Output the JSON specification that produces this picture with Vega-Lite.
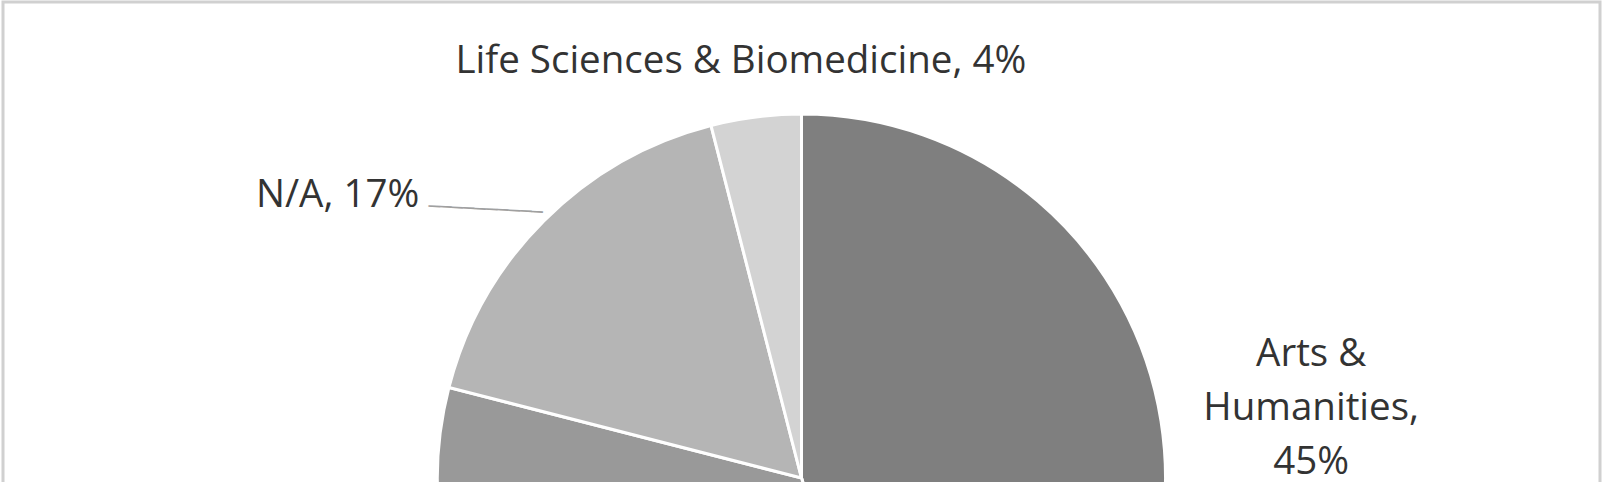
{
  "$schema": "https://vega.github.io/schema/vega-lite/v6.json",
  "width": 1597,
  "height": 952,
  "padding": {"left": 3, "top": 2, "right": 3, "bottom": 0},
  "autosize": "none",
  "background": "#ffffff",
  "view": {"stroke": "#d0d0d0", "strokeWidth": 3},
  "data": {
    "values": [
      {"field": "Arts & Humanities", "pct": 45, "rank": 1, "label": "Arts &\nHumanities,\n45%"},
      {"field": "Social Sciences", "pct": 34, "rank": 2, "label": "Social Sciences, 34%"},
      {"field": "N/A", "pct": 17, "rank": 3, "label": "N/A, 17%"},
      {"field": "Life Sciences & Biomedicine", "pct": 4, "rank": 4, "label": "Life Sciences & Biomedicine, 4%"}
    ]
  },
  "encoding": {
    "theta": {"field": "pct", "type": "quantitative", "stack": true},
    "order": {"field": "rank", "type": "quantitative"}
  },
  "layer": [
    {
      "mark": {"type": "arc", "radius": 364, "stroke": "#ffffff", "strokeWidth": 3},
      "encoding": {
        "color": {
          "field": "field", "type": "nominal",
          "scale": {
            "domain": ["Arts & Humanities", "Social Sciences", "N/A", "Life Sciences & Biomedicine"],
            "range": ["#7f7f7f", "#999999", "#b5b5b5", "#d3d3d3"]
          },
          "legend": null
        }
      }
    },
    {
      "mark": {"type": "text", "radius": 420, "dx": -8, "font": "Open Sans", "fontSize": 38.5, "color": "#333333", "align": "center", "baseline": "middle"},
      "encoding": {"text": {"condition": {"test": "datum.rank == 4", "field": "label"}, "value": ""}}
    },
    {
      "mark": {"type": "text", "radius": 400, "dx": -181, "font": "Open Sans", "fontSize": 38.5, "color": "#333333", "align": "center", "baseline": "middle"},
      "encoding": {"text": {"condition": {"test": "datum.rank == 3", "field": "label"}, "value": ""}}
    },
    {
      "mark": {"type": "text", "radius": 376, "dx": -50, "angle": 3, "font": "DejaVu Sans", "fontSize": 19, "color": "#a0a0a0", "align": "center", "baseline": "middle"},
      "encoding": {"text": {"condition": {"test": "datum.rank == 3", "value": "──────────"}, "value": ""}}
    },
    {
      "mark": {"type": "text", "radius": 516, "dy": -43, "font": "Open Sans", "fontSize": 38.5, "color": "#333333", "align": "center", "baseline": "middle", "lineBreak": "\n", "lineHeight": 54},
      "encoding": {"text": {"condition": {"test": "datum.rank == 1", "field": "label"}, "value": ""}}
    }
  ]
}
